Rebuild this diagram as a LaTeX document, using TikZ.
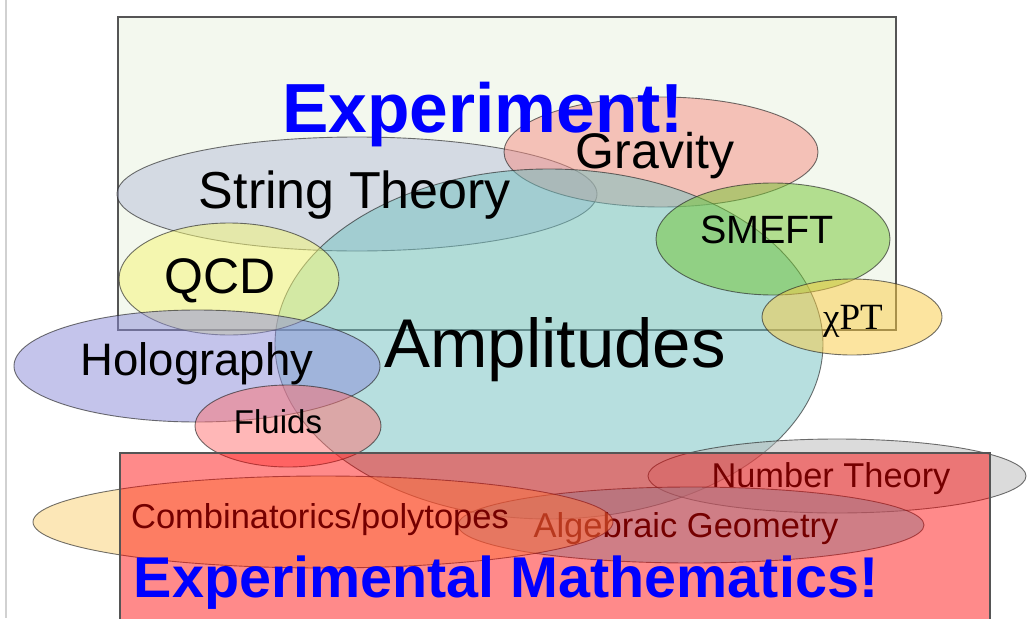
\documentclass[tikz,border=0pt]{standalone}
\usepackage{fontspec}
\setmainfont{Liberation Sans}
\newfontfamily\chifont{Liberation Serif}
\usetikzlibrary{positioning}
\definecolor{Frame}{RGB}{85,85,85}
\definecolor{ExpBg}{RGB}{243,248,238}
\definecolor{StrC}{RGB}{183,190,218}
\definecolor{GravC}{RGB}{245,140,130}
\definecolor{AmpC}{RGB}{113,193,193}
\definecolor{QcdC}{RGB}{245,246,114}
\definecolor{SmeftC}{RGB}{115,198,50}
\definecolor{ChiC}{RGB}{251,203,65}
\definecolor{HoloC}{RGB}{139,139,217}
\definecolor{FluidC}{RGB}{255,113,113}
\definecolor{NumC}{RGB}{185,185,185}
\definecolor{AlgC}{RGB}{80,215,245}
\definecolor{CombC}{RGB}{251,209,113}
\newcommand{\fsz}[1]{\fontsize{#1}{#1}\selectfont}

\begin{document}
\begin{tikzpicture}[x=1pt, y=-1pt,
  blob/.style={draw=black!85, line width=0.9pt, draw opacity=0.65, fill opacity=0.5},
  frame/.style={draw=Frame, line width=1.1pt},
  lbl/.style={anchor=base, inner sep=0pt, text=black},
  banner/.style={anchor=base, inner sep=0pt, text=blue, font=\bfseries}
]
\useasboundingbox (0,0) rectangle (1032,618);
\clip (0,0) rectangle (1032,618);
\fill[white] (0,0) rectangle (1032,618);
\draw[black!18, line width=1.5pt] (6,0) -- (6,618);

% Experiment box
\draw[frame, fill=ExpBg] (118,17) rectangle (896,330);

% Physics areas
\foreach \cx/\cy/\rx/\ry/\col in {357/194/240/57/StrC, 661/152/157/55/GravC,
  549/344/274/175/AmpC, 229/279/110/56/QcdC, 773/239/117/56/SmeftC,
  852/317/90/38/ChiC, 197/366/183/56/HoloC, 288/426/93/41/FluidC}
  { \draw[blob, fill=\col] (\cx,\cy) ellipse [x radius=\rx pt, y radius=\ry pt]; }

\node[lbl, font=\fsz{52}] (strng) at (355,208) {String Theory};
\node[lbl, font=\fsz{50}] (grav) at (655,168) {Gravity};
\node[lbl, font=\fsz{39.5}] (smeft) at (767,243) {SMEFT};
\node[lbl, font=\fsz{50}] (qcd) at (220,293) {QCD};
\node[lbl, font=\chifont\fsz{37}] (chpt) at (853,329) {χPT};
\node[lbl, font=\fsz{69}] (amp) at (555,367) {Amplitudes};
\node[lbl, font=\fsz{45.5}] (holo) at (197,375) {Holography};
\node[lbl, font=\fsz{33}] (fluid) at (278,433) {Fluids};

% Mathematics areas
\draw[blob, fill=NumC] (837,476) ellipse [x radius=189pt, y radius=37pt];
\node[lbl, font=\fsz{34.4}] (numth) at (831,487) {Number Theory};
\draw[blob, fill=AlgC] (691,525) ellipse [x radius=233pt, y radius=38pt];
\node[lbl, font=\fsz{34.5}] (alggeo) at (686,537) {Algebraic Geometry};
\draw[blob, fill=CombC] (323,522) ellipse [x radius=290pt, y radius=46pt];
\node[lbl, font=\fsz{34.5}] (comb) at (320,528) {Combinatorics/polytopes};

% Experimental Mathematics box
\draw[frame, fill=red, fill opacity=0.46] (120,453) rectangle (990,640);

\node[banner, font=\bfseries\fsz{69.5}] (expt) at (483,132) {Experiment!};
\node[banner, font=\bfseries\fsz{57.5}] (expmath) at (506,597) {Experimental Mathematics!};
\end{tikzpicture}
\end{document}
